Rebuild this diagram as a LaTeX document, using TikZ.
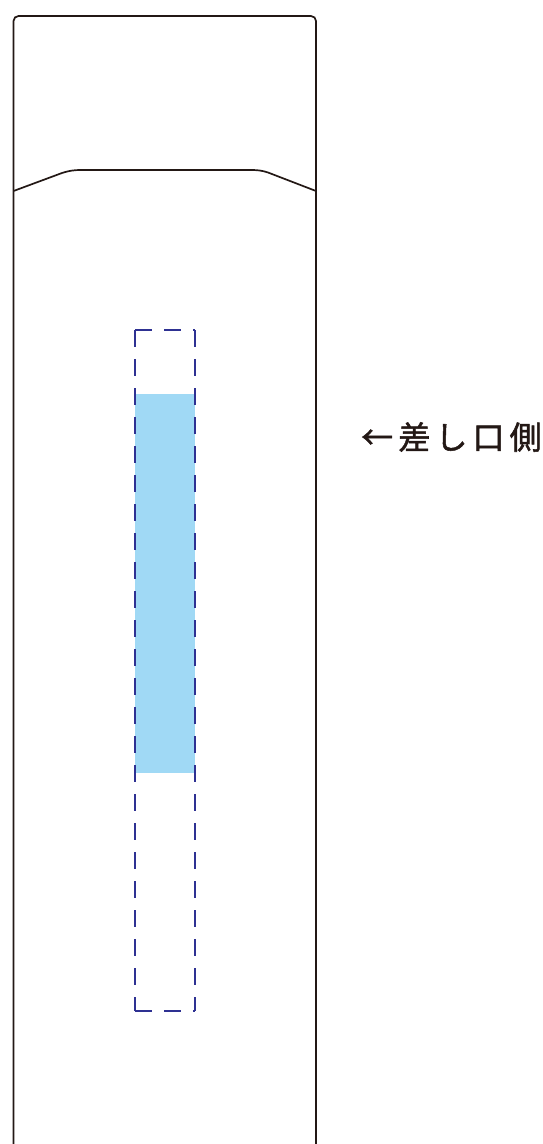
\documentclass[tikz,border=0pt]{standalone}
\usepackage{fontspec}
\newfontfamily\jpfont[LetterSpace=16,FakeBold=1.6]{Noto Sans CJK JP}
\definecolor{ink}{HTML}{231815}
\definecolor{dashblue}{HTML}{2E3192}
\definecolor{fillblue}{HTML}{A0D9F5}
\tikzset{
  outline/.style={draw=ink, line width=1.7pt},
  guide/.style={draw=dashblue, line width=2.8pt, dash pattern=on 17pt off 12pt},
  label/.style={font=\jpfont\fontsize{32pt}{34pt}\selectfont, text=ink, inner sep=0pt}
}
\begin{document}
\begin{tikzpicture}[x=1pt,y=-1pt]
\useasboundingbox (0,0) rectangle (543,1144);
% blue window
\fill[fillblue] (135,394) rectangle (195,773);
% dashed guide
\coordinate (g1) at (135,330);
\coordinate (g2) at (195,330);
\coordinate (g3) at (195,1011);
\coordinate (g4) at (135,1011);
\draw[guide] (g1) -- (g2);
\draw[guide] (g2) -- (g3);
\draw[guide] (g4) -- (g3);
\draw[guide] (g1) -- (g4);
% outer body
\draw[outline, rounded corners=5pt] (13.5,1150) -- (13.5,16) -- (316,16) -- (316,1150);
% flap
\draw[outline] (13.5,191) -- (62,173) .. controls (70,170.5) and (74,170) .. (82,170) -- (250,170) .. controls (258,170) and (262,170.5) .. (268,172.5) -- (316,191);
% label
\node[label, anchor=west] (lbl) at (361,437) {←差し口側};
\end{tikzpicture}
\end{document}
